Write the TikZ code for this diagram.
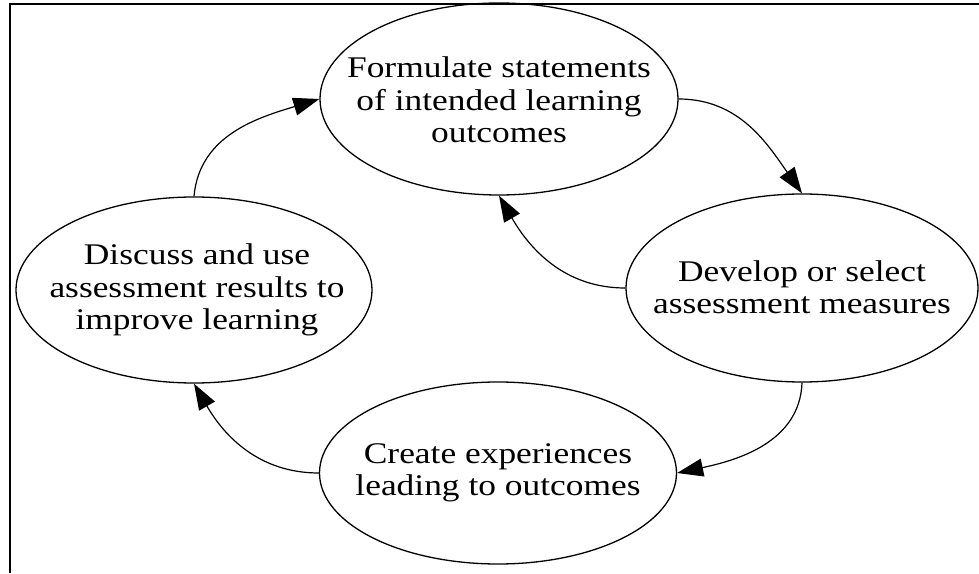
\documentclass[tikz,border=0pt]{standalone}
\usepackage{fontspec}
\setmainfont{Liberation Serif}[FakeStretch=1.18]
\usetikzlibrary{shapes.geometric,arrows.meta}

\begin{document}
\begin{tikzpicture}[x=1pt,y=1pt,
    stage/.style={ellipse,draw,line width=1.3pt,inner sep=0pt},
    caption/.style={align=center,inner sep=0pt,
      font=\fontsize{30}{32.5}\selectfont},
    flow/.style={line width=1.2pt,
      -{Triangle[length=26pt,width=18pt]}}]
  \useasboundingbox (0,0) rectangle (979,573);

  % open frame: top and left edges only
  \coordinate (fbl) at (10,0);
  \coordinate (ftl) at (10,569);
  \coordinate (ftr) at (979,569);
  \draw[line width=2pt] (fbl) -- (ftl) -- (ftr);

  % the four stages of the cycle
  \node[stage,minimum width=358pt,minimum height=192pt] (top) at (499,474) {};
  \node[stage,minimum width=352pt,minimum height=188pt] (right) at (802,285) {};
  \node[stage,minimum width=357pt,minimum height=182pt] (bottom) at (498,100) {};
  \node[stage,minimum width=356pt,minimum height=186pt] (left) at (194,283) {};

  \node[caption] (toptext) at (499,473)
    {Formulate statements\\of intended learning\\outcomes};
  \node[caption] (righttext) at (802,286)
    {Develop or select\\assessment measures};
  \node[caption] (bottomtext) at (498,100)
    {Create experiences\\leading to outcomes};
  \node[caption] (lefttext) at (197,283)
    {Discuss and use\\assessment results to\\improve learning};

  % connectors
  \draw[flow] (left.north) to[out=85,in=197] (top.west);
  \draw[flow] (top.east) to[out=0,in=125] (right.north);
  \draw[flow] (right.west) to[out=180,in=300] (top.south);
  \draw[flow] (right.south) to[out=268,in=12] (bottom.east);
  \draw[flow] (bottom.west) to[out=180,in=300] (left.south);
\end{tikzpicture}
\end{document}
